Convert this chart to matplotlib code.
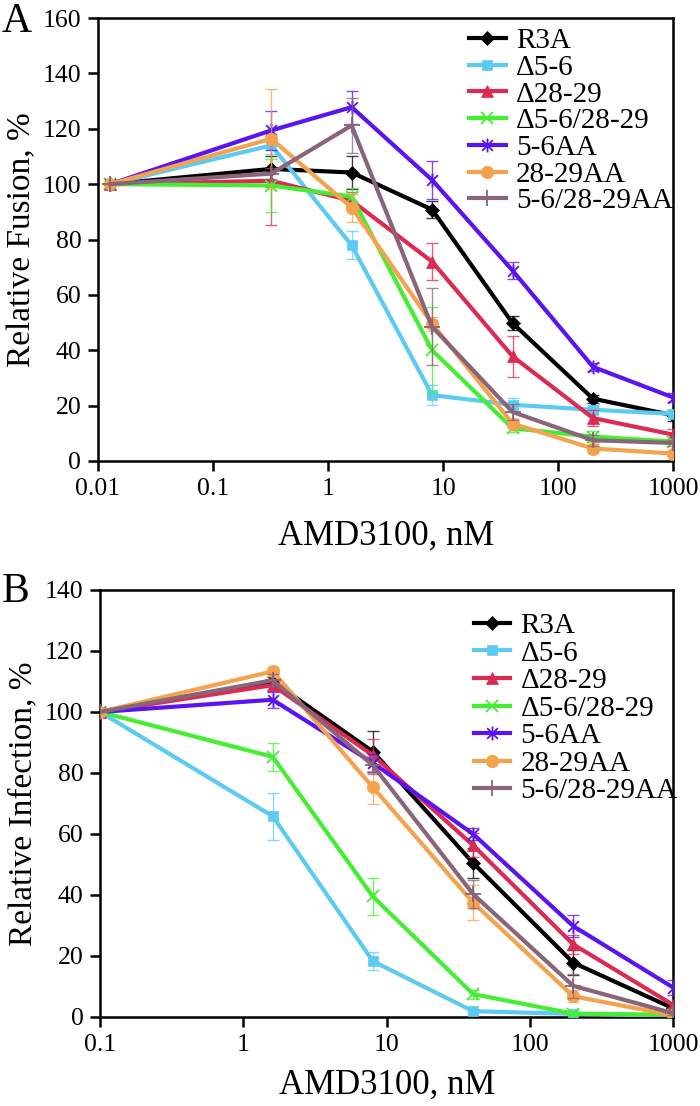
import numpy as np
import matplotlib
matplotlib.use('Agg')
import matplotlib.pyplot as plt
from matplotlib.path import Path
from matplotlib import font_manager

# шрифт с засечками (Times-подобный)
serif_names = [f.name for f in font_manager.fontManager.ttflist]
serif = 'Liberation Serif' if 'Liberation Serif' in serif_names else 'DejaVu Serif'
plt.rcParams['font.family'] = 'serif'
plt.rcParams['font.serif'] = [serif, 'DejaVu Serif']

# серии и подписи
names = ['R3A', 'Δ5-6', 'Δ28-29', 'Δ5-6/28-29', '5-6AA', '28-29AA', '5-6/28-29AA']
colors = ['#000000', '#5ccbf3', '#dc2a52', '#44ee33', '#5a14f0', '#f5a24e', '#8a6478']

# маркер "звездочка" как в Excel: x + вертикальная черта
star = Path([(-1, -1), (1, 1), (-1, 1), (1, -1), (0, -1.3), (0, 1.3)],
            [Path.MOVETO, Path.LINETO, Path.MOVETO, Path.LINETO, Path.MOVETO, Path.LINETO])
markers = ['D', 's', '^', 'x', star, 'o', '+']
msizes = [7, 7, 8, 9, 10, 9, 11]

# панель A: слияние
x_fus = [0.0128, 0.32, 1.6, 8, 40, 200, 1000]
fus_r3a = [100, 105.5, 104.2, 90.8, 49.8, 22.5, 16.5]
fus_d56 = [100, 114.0, 77.9, 23.8, 20.3, 18.5, 17.0]
fus_d2829 = [100, 101.2, 94.0, 72.0, 37.8, 15.5, 9.5]
fus_d56_2829 = [100, 99.5, 95.5, 40.0, 11.8, 8.8, 7.0]
fus_56aa = [100, 119.4, 127.8, 101.5, 68.8, 34.0, 22.9]
fus_2829aa = [100, 116.4, 91.5, 49.6, 13.5, 4.5, 2.7]
fus_56_2829aa = [100, 103.8, 121.2, 48.5, 17.7, 7.5, 6.5]

fus_r3a_err = [0, 4.5, 6.0, 3.0, 2.5, 1.5, 2.0]
fus_d56_err = [0, 3.0, 5.0, 3.5, 2.5, 1.5, 1.5]
fus_d2829_err = [0, 16.0, 3.0, 6.7, 7.3, 3.0, 2.0]
fus_d56_2829_err = [0, 9.5, 3.0, 15.5, 1.5, 2.0, 1.0]
fus_56aa_err = [0, 7.0, 6.0, 7.0, 3.0, 1.5, 1.5]
fus_2829aa_err = [0, 18.0, 5.0, 2.5, 1.5, 1.5, 1.0]
fus_56_2829aa_err = [0, 2.0, 10.0, 14.0, 3.0, 2.0, 1.0]

# панель B: инфекция
x_inf = [0.1, 1.6, 8, 40, 200, 1000]
inf_r3a = [100, 110.0, 87.0, 50.5, 17.8, 2.8]
inf_d56 = [100, 65.8, 18.3, 1.9, 1.0, 0.4]
inf_d2829 = [100, 108.8, 85.8, 56.3, 23.8, 3.9]
inf_d56_2829 = [100, 85.3, 39.5, 7.5, 1.1, 0.7]
inf_56aa = [100, 104.0, 83.3, 60.0, 29.8, 9.6]
inf_2829aa = [100, 113.3, 75.3, 37.5, 6.8, 0.5]
inf_56_2829aa = [100, 110.4, 82.5, 40.3, 10.2, 1.2]

inf_r3a_err = [0, 1.5, 6.6, 5.0, 4.0, 1.0]
inf_d56_err = [0, 7.7, 3.0, 0.5, 0.5, 0.5]
inf_d2829_err = [0, 2.0, 5.4, 4.0, 3.0, 1.0]
inf_d56_2829_err = [0, 4.6, 6.0, 1.5, 0.5, 0.5]
inf_56aa_err = [0, 2.7, 3.0, 2.0, 3.5, 2.5]
inf_2829aa_err = [0, 1.5, 5.5, 5.8, 2.0, 0.5]
inf_56_2829aa_err = [0, 2.0, 3.0, 4.5, 4.0, 0.5]

fus_vals = [fus_r3a, fus_d56, fus_d2829, fus_d56_2829, fus_56aa, fus_2829aa, fus_56_2829aa]
fus_errs = [fus_r3a_err, fus_d56_err, fus_d2829_err, fus_d56_2829_err, fus_56aa_err, fus_2829aa_err, fus_56_2829aa_err]
inf_vals = [inf_r3a, inf_d56, inf_d2829, inf_d56_2829, inf_56aa, inf_2829aa, inf_56_2829aa]
inf_errs = [inf_r3a_err, inf_d56_err, inf_d2829_err, inf_d56_2829_err, inf_56aa_err, inf_2829aa_err, inf_56_2829aa_err]

fig = plt.figure(figsize=(7, 11.06), dpi=100)
axA = fig.add_axes([0.140, 0.5832, 0.822, 0.4005])
axB = fig.add_axes([0.143, 0.0805, 0.819, 0.3861])


def draw_panel(ax, x, vals, errs, xlim, ylim, yticks, ylabel, xlab_y, ylab_x,
               leg_anchor, leg_space):
    x = np.array(x)
    for i in range(len(names)):
        y = np.array(vals[i])
        e = np.array(errs[i])
        ax.errorbar(x[1:], y[1:], yerr=e[1:], fmt='none', ecolor=colors[i],
                    elinewidth=1.0, capsize=4, capthick=1.0, alpha=0.75, zorder=2 + i)
        filled = markers[i] in ('D', 's', '^', 'o')
        ax.plot(x, y, color=colors[i], lw=3, marker=markers[i], ms=msizes[i],
                mec=colors[i], mew=1.3 if not filled else 0.5, label=names[i],
                zorder=3 + i)
    ax.set_xscale('log')
    ax.set_xlim(*xlim)
    ax.set_ylim(*ylim)
    ax.set_yticks(yticks)
    ax.xaxis.set_major_formatter(matplotlib.ticker.FuncFormatter(lambda v, p: f'{v:g}'))
    ax.xaxis.set_minor_locator(matplotlib.ticker.NullLocator())
    ax.tick_params(axis='both', which='major', direction='out', length=7, width=1.8,
                   labelsize=18.5, pad=5, top=False, right=False, labelfontfamily=serif)
    for s in ax.spines.values():
        s.set_linewidth(1.8)
    ax.set_xlabel('AMD3100, nM', fontsize=25)
    ax.set_ylabel(ylabel, fontsize=24)
    ax.xaxis.set_label_coords(0.5, xlab_y)
    ax.yaxis.set_label_coords(ylab_x, 0.5)
    ax.legend(loc='upper left', bbox_to_anchor=leg_anchor, frameon=False, fontsize=21,
              handlelength=1.25, handletextpad=0.35, labelspacing=leg_space,
              borderpad=0, borderaxespad=0)


draw_panel(axA, x_fus, fus_vals, fus_errs, (0.01, 1000), (0, 160), range(0, 161, 20),
           'Relative Fusion, %', -0.133, -0.105, (0.645, 0.978), 0.01)
draw_panel(axB, x_inf, inf_vals, inf_errs, (0.1, 1000), (0, 140), range(0, 141, 20),
           'Relative Infection, %', -0.122, -0.108, (0.652, 0.947), 0.04)

fig.text(0.003, 0.998, 'A', fontsize=30, va='top', ha='left')
fig.text(0.003, 0.482, 'B', fontsize=30, va='top', ha='left')

fig.savefig('out.png', dpi=100)
